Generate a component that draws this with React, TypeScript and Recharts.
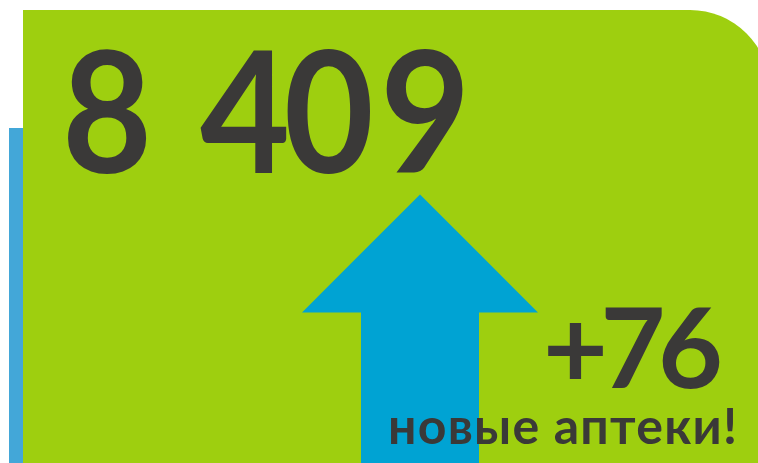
import React from 'react'
import { ComposedChart, Bar, XAxis, YAxis } from 'recharts'

// values
const categories = ['аптеки']
const totalPharmacies = [8409]
const newPharmacies = [76]
const caption = ['новые аптеки!']

const data = categories.map((name, i) => ({ name, total: totalPharmacies[i], added: newPharmacies[i] }))

const INK = '#3a3938'
const FONT = "Lato, 'Noto Sans', sans-serif"

const fmt = (v: number) => String(v).replace(/\B(?=(\d{3})+(?!\d))/g, ' ')

// up arrow: shaft = bar, head as wide as two shafts
function ArrowShape(props: any) {
  const { x, y, width, height } = props
  const w = width
  const d = `M${x - w / 2},${y + w} L${x + w / 2},${y} L${x + w * 1.5},${y + w} L${x + w},${y + w} L${x + w},${y + height} L${x},${y + height} L${x},${y + w} Z`
  return <path d={d} fill="#00a3d3" />
}

export default function App() {
  return (
    <div style={{ position: 'absolute', left: 0, top: 0, width: 758, height: 463, overflow: 'hidden', background: '#fff' }}>
      <div style={{ position: 'absolute', left: 9, top: 128, width: 20, height: 335, background: '#43a7d8' }} />
      <div style={{ position: 'absolute', left: 23, top: 10, width: 747, height: 480, background: '#9ecf0f', borderTopRightRadius: 80 }} />
      <div style={{ position: 'absolute', left: 0, top: 0 }}>
        <ComposedChart width={758} height={463} data={data} margin={{ top: 0, right: 0, left: 82, bottom: 0 }}>
          <XAxis dataKey="name" hide />
          <YAxis hide domain={[0, 131]} />
          <Bar dataKey="added" barSize={118} shape={ArrowShape} isAnimationActive={false} />
        </ComposedChart>
      </div>
      {/* texts sit above the arrow */}
      <svg width={758} height={463} style={{ position: 'absolute', left: 0, top: 0 }}>
        <g fontFamily={FONT} fontWeight={700} fill={INK}>
          <text transform="translate(62,173) scale(0.92,1)" x="0 120 150 241 346" y={0} fontSize={169}>{fmt(totalPharmacies[0])}</text>
          <text x={543} y={388} fontSize={112} textLength={180} lengthAdjust="spacing">{'+' + newPharmacies[0]}</text>
          <text x={388} y={444} fontSize={50} textLength={349} lengthAdjust="spacing">{caption[0]}</text>
        </g>
      </svg>
    </div>
  )
}
